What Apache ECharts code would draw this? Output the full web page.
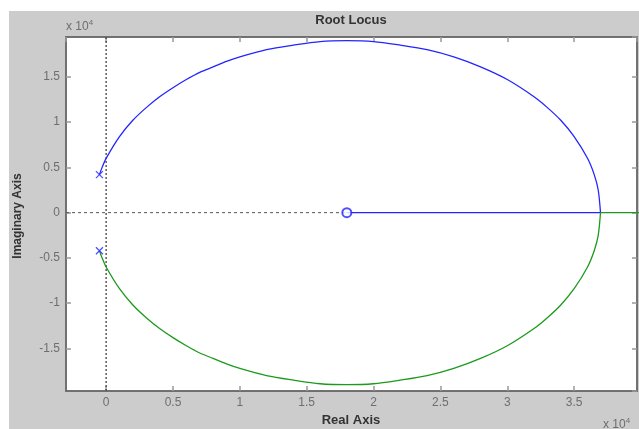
<!DOCTYPE html>
<html>
<head>
<meta charset="utf-8">
<script src="https://cdn.jsdelivr.net/npm/echarts@6/dist/echarts.min.js"></script>
<style>html,body{margin:0;padding:0;background:#fff}#c{width:639px;height:429px}</style>
</head>
<body>
<div id="c"></div>
<script>
// values in units of 1e4
var xTicks = [0, 0.5, 1, 1.5, 2, 2.5, 3, 3.5];
var yTicks = [-1.5, -1, -0.5, 0, 0.5, 1, 1.5];
var poles = [[-0.05, 0.42], [-0.05, -0.42]];
var zeros = [[1.8, 0]];
var upperBranch = [
  [-0.05, 0.42], [-0.03, 0.50], [0, 0.60], [0.1, 0.84], [0.2, 1.02], [0.3, 1.16],
  [0.4, 1.28], [0.5, 1.38], [0.6, 1.47], [0.7, 1.55], [0.8, 1.61], [0.9, 1.67],
  [1.0, 1.72], [1.2, 1.80], [1.4, 1.85], [1.6, 1.89], [1.8, 1.90], [2.0, 1.89],
  [2.2, 1.85], [2.4, 1.80], [2.6, 1.72], [2.8, 1.61], [3.0, 1.47], [3.2, 1.28],
  [3.3, 1.16], [3.4, 1.02], [3.5, 0.84], [3.6, 0.60], [3.65, 0.42], [3.68, 0.25],
  [3.697, 0]
];
var lowerBranch = [
  [-0.05, -0.42], [-0.03, -0.50], [0, -0.60], [0.1, -0.84], [0.2, -1.02], [0.3, -1.16],
  [0.4, -1.28], [0.5, -1.38], [0.6, -1.47], [0.7, -1.55], [0.8, -1.61], [0.9, -1.67],
  [1.0, -1.72], [1.2, -1.80], [1.4, -1.85], [1.6, -1.89], [1.8, -1.90], [2.0, -1.89],
  [2.2, -1.85], [2.4, -1.80], [2.6, -1.72], [2.8, -1.61], [3.0, -1.47], [3.2, -1.28],
  [3.3, -1.16], [3.4, -1.02], [3.5, -0.84], [3.6, -0.60], [3.65, -0.42], [3.68, -0.25],
  [3.697, 0]
];
var blueReal = [[1.8, 0], [3.697, 0]];
var greenReal = [[3.697, 0], [4.2, 0]];
var xMin = -0.3, xMax = 3.97, yMin = -1.97, yMax = 1.94;

var BLUE = '#2424ff', GREEN = '#1c9a1c', AX = '#6a6a6a', LBL = '#6e6e6e', TXT = '#333';
var xSet = {}; xTicks.forEach(function(v){ xSet[v.toFixed(2)] = true; });
var ySet = {}; yTicks.forEach(function(v){ ySet[v.toFixed(2)] = true; });
function xf(v){ return xSet[(+v).toFixed(2)] ? String(+(+v).toFixed(2)) : ''; }
function yf(v){ return ySet[(+v).toFixed(2)] ? String(+(+v).toFixed(2)) : ''; }

var chart = echarts.init(document.getElementById('c'), null, {renderer: 'canvas'});
var font = 'Liberation Sans, Arial, sans-serif';
var baseAxis = function(type, pos, showLabel, fmt, mn, mx) {
  return {
    type: 'value', position: pos, min: mn, max: mx, splitNumber: 8,
    axisLine: {show: true, onZero: false, lineStyle: {color: AX, width: 1.5}},
    axisTick: {show: true, inside: true, length: 5, lineStyle: {color: '#999', width: 1.5}},
    axisLabel: {show: showLabel, formatter: fmt, color: LBL, fontSize: 12, fontFamily: font, margin: 6, showMinLabel: false, showMaxLabel: false},
    splitLine: {show: false}
  };
};
var option = {
  backgroundColor: '#fff',
  animation: false,
  graphic: [
    {type: 'rect', z: -10, shape: {x: 9, y: 11, width: 640, height: 430}, style: {fill: '#cccccc'}},
    {type: 'text', left: 66, top: 19, style: {text: '{a|x 10}{b|4}', rich: {a: {fontSize: 12, fill: LBL, fontFamily: font}, b: {fontSize: 8, fill: LBL, fontFamily: font, padding: [0, 0, 7, 0]}}}},
    {type: 'text', left: 603, top: 417, style: {text: '{a|x 10}{b|4}', rich: {a: {fontSize: 12, fill: LBL, fontFamily: font}, b: {fontSize: 8, fill: LBL, fontFamily: font, padding: [0, 0, 7, 0]}}}},
    {type: 'text', x: 351, y: 14, style: {text: 'Root Locus', fontSize: 13, fontWeight: 'bold', fill: TXT, fontFamily: font, textAlign: 'center', textVerticalAlign: 'top'}},
    {type: 'text', x: 351, y: 414, style: {text: 'Real Axis', fontSize: 13, fontWeight: 'bold', fill: TXT, fontFamily: font, textAlign: 'center', textVerticalAlign: 'top'}},
    {type: 'text', x: 12, y: 216, rotation: Math.PI / 2, style: {text: 'Imaginary Axis', fontSize: 12, fontWeight: 'bold', fill: TXT, fontFamily: font, textAlign: 'center', textVerticalAlign: 'top'}}
  ],
  grid: {left: 66, top: 37, right: 2, bottom: 38, show: true, backgroundColor: '#fff', borderColor: AX, borderWidth: 1.5},
  xAxis: [baseAxis('value', 'bottom', true, xf, xMin, xMax), baseAxis('value', 'top', false, xf, xMin, xMax)],
  yAxis: [baseAxis('value', 'left', true, yf, yMin, yMax), baseAxis('value', 'right', false, yf, yMin, yMax)],
  series: [
    {type: 'line', data: [[xMin, 0], [1.8, 0]], symbol: 'none', silent: true, lineStyle: {color: '#555', width: 1, type: [3, 3]}},
    {type: 'line', data: [[0, yMin], [0, yMax]], symbol: 'none', silent: true, lineStyle: {color: '#333', width: 1.2, type: [2, 2]}},
    {type: 'line', data: upperBranch, symbol: 'none', smooth: 0.3, lineStyle: {color: BLUE, width: 1.3}},
    {type: 'line', data: lowerBranch, symbol: 'none', smooth: 0.3, lineStyle: {color: GREEN, width: 1.3}},
    {type: 'line', data: blueReal, symbol: 'none', lineStyle: {color: BLUE, width: 1.3}},
    {type: 'line', data: greenReal, symbol: 'none', lineStyle: {color: GREEN, width: 1.3}},
    {type: 'scatter', data: poles, symbol: 'path://M0,0 L10,10 M10,0 L0,10', symbolSize: 7, itemStyle: {color: 'none', borderColor: BLUE, borderWidth: 1.3}, z: 5},
    {type: 'scatter', data: zeros, symbol: 'emptyCircle', symbolSize: 9, itemStyle: {color: BLUE, borderColor: BLUE, borderWidth: 1.5}, z: 5}
  ]
};
chart.setOption(option);
</script>
</body>
</html>
